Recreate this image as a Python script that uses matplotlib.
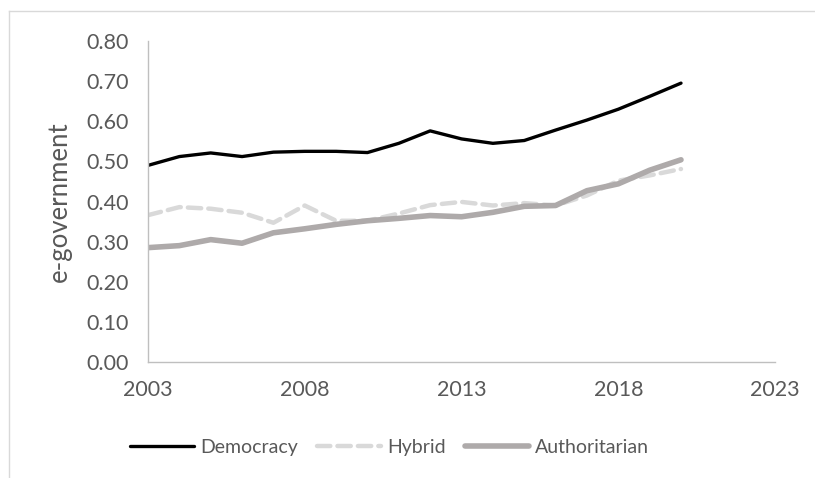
import matplotlib
matplotlib.use("Agg")
import matplotlib.pyplot as plt
import matplotlib.ticker as ticker
from matplotlib.lines import Line2D

plt.rcParams['font.family'] = ['Lato', 'DejaVu Sans']

years = list(range(2003, 2021))
democracy = [0.490, 0.512, 0.521, 0.512, 0.523, 0.525, 0.525, 0.522, 0.545, 0.576, 0.556, 0.545, 0.552, 0.578, 0.603, 0.630, 0.662, 0.695]
hybrid = [0.366, 0.386, 0.382, 0.372, 0.347, 0.390, 0.352, 0.352, 0.370, 0.391, 0.399, 0.390, 0.396, 0.390, 0.415, 0.452, 0.465, 0.481]
authoritarian = [0.285, 0.290, 0.305, 0.296, 0.322, 0.332, 0.343, 0.352, 0.358, 0.365, 0.362, 0.373, 0.388, 0.390, 0.427, 0.444, 0.478, 0.504]

x_ticks = [2003, 2008, 2013, 2018, 2023]
y_ticks = [0.0, 0.1, 0.2, 0.3, 0.4, 0.5, 0.6, 0.7, 0.8]

text_color = "#595959"
axis_color = "#BFBFBF"

fig = plt.figure(figsize=(8.15, 4.78), dpi=100)
ax = fig.add_axes([0.1816, 0.2427, 0.7694, 0.6715])

ax.plot(years, democracy, color="black", linewidth=2.4, label="Democracy", solid_capstyle="round")
ax.plot(years, hybrid, color="#D9D9D9", linewidth=3.2, linestyle=(0, (3.0, 1.6)),
        label="Hybrid", dash_capstyle="round")
ax.plot(years, authoritarian, color="#AEAAAA", linewidth=4.0, label="Authoritarian", solid_capstyle="round")

ax.set_xlim(2003, 2023)
ax.set_ylim(0, 0.8)
ax.set_xticks(x_ticks)
ax.set_yticks(y_ticks)
ax.yaxis.set_major_formatter(ticker.FuncFormatter(lambda y, _: f'{y:.2f}'))
ax.tick_params(length=0, labelsize=15.5, labelcolor=text_color)
ax.tick_params(axis='x', pad=13)
ax.tick_params(axis='y', pad=14)

for side in ["top", "right"]:
    ax.spines[side].set_visible(False)
for side in ["left", "bottom"]:
    ax.spines[side].set_color(axis_color)
    ax.spines[side].set_linewidth(1.0)

ax.set_ylabel("e-government", fontsize=18.5, color=text_color, labelpad=10)

ax.legend(loc="upper center", bbox_to_anchor=(0.385, -0.185), ncol=3, frameon=False,
          fontsize=14, labelcolor=text_color, handlelength=3.3, handletextpad=0.3,
          columnspacing=1.0)

# chart border (top and left edges)
fig.add_artist(Line2D([9 / 815, 1.0], [1 - 10.5 / 478, 1 - 10.5 / 478],
                      transform=fig.transFigure, color="#D9D9D9", linewidth=1.0))
fig.add_artist(Line2D([9 / 815, 9 / 815], [0.0, 1 - 10.5 / 478],
                      transform=fig.transFigure, color="#D9D9D9", linewidth=1.0))

fig.savefig("out.png", dpi=100)
